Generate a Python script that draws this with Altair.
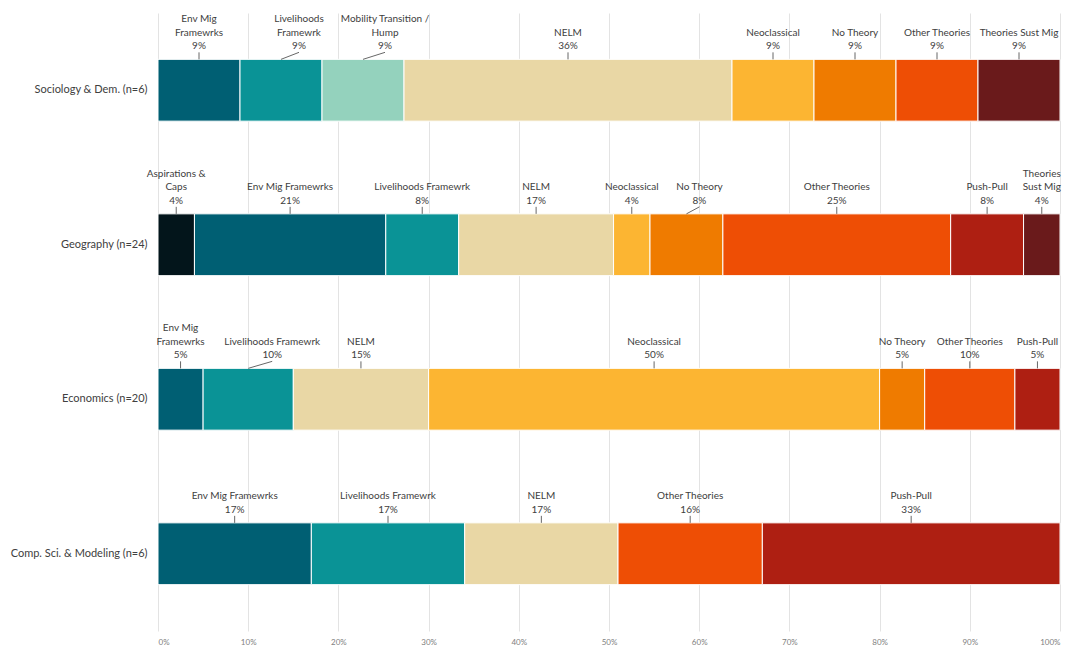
import altair as alt
import pandas as pd

disciplines = [
    "Sociology & Dem. (n=6)",
    "Geography (n=24)",
    "Economics (n=20)",
    "Comp. Sci. & Modeling (n=6)",
]

theories = [
    "Aspirations & Caps",
    "Env Mig Framewrks",
    "Livelihoods Framewrk",
    "Mobility Transition / Hump",
    "NELM",
    "Neoclassical",
    "No Theory",
    "Other Theories",
    "Push-Pull",
    "Theories Sust Mig",
]
theory_colors = [
    "#03151b", "#005f73", "#0a9396", "#94d2bd", "#e9d7a5",
    "#fcb532", "#ef7b00", "#ee4e05", "#ae1f12", "#6a1a1b",
]

soc_labels = ["Env Mig\nFramewrks", "Livelihoods\nFramewrk", "Mobility Transition /\nHump", "NELM",
              "Neoclassical", "No Theory", "Other Theories", "Theories Sust Mig"]
soc_pct = [9, 9, 9, 36, 9, 9, 9, 9]

geo_labels = ["Aspirations &\nCaps", "Env Mig Framewrks", "Livelihoods Framewrk", "NELM", "Neoclassical",
              "No Theory", "Other Theories", "Push-Pull", "Theories\nSust Mig"]
geo_pct = [4, 21, 8, 17, 4, 8, 25, 8, 4]

eco_labels = ["Env Mig\nFramewrks", "Livelihoods Framewrk", "NELM", "Neoclassical", "No Theory",
              "Other Theories", "Push-Pull"]
eco_pct = [5, 10, 15, 50, 5, 10, 5]

cs_labels = ["Env Mig Framewrks", "Livelihoods Framewrk", "NELM", "Other Theories", "Push-Pull"]
cs_pct = [17, 17, 17, 16, 33]

tick_values = [0.0, 0.1, 0.2, 0.3, 0.4, 0.5, 0.6, 0.7, 0.8, 0.9, 1.0]

rows = []
for disc, labels, pcts in zip(disciplines,
                              [soc_labels, geo_labels, eco_labels, cs_labels],
                              [soc_pct, geo_pct, eco_pct, cs_pct]):
    for lab, p in zip(labels, pcts):
        name = lab.replace("\n", " ")
        # callout lines counted from the bottom (line0 = percentage)
        lines = lab.split("\n")[::-1]
        rows.append({
            "discipline": disc,
            "theory": name,
            "order": theories.index(name),
            "pct": p,
            "line0": f"{p}%",
            "line1": lines[0],
            "line2": lines[1] if len(lines) > 1 else "",
            "key": f"{disc}|{name}",
        })
df = pd.DataFrame(rows)

FONT = "Lato"
TXT = "#404040"
LINE_H = 13.5

base = alt.Chart(df).transform_stack(
    stack="pct",
    as_=["x0", "x1"],
    groupby=["discipline"],
    offset="normalize",
    sort=[alt.SortField("order", order="ascending")],
).transform_calculate(mid="(datum.x0 + datum.x1) / 2")

yscale = alt.Scale(paddingInner=0.6, paddingOuter=0.3)
xscale = alt.Scale(domain=[0, 1])

bars = base.mark_bar(stroke="white", strokeWidth=1).encode(
    x=alt.X("x0:Q", scale=xscale, title=None,
            axis=alt.Axis(format="%", values=tick_values, grid=True, gridColor="#e3e3e3",
                          domain=False, ticks=False, labelFontSize=8, labelColor="#808080",
                          labelFont=FONT, labelPadding=7)),
    x2="x1:Q",
    y=alt.Y("discipline:N", sort=disciplines, scale=yscale, title=None,
            axis=alt.Axis(domain=False, ticks=False, grid=False, labelFont=FONT, labelFontSize=11,
                          labelColor=TXT, labelPadding=11, minExtent=150, maxExtent=150)),
    color=alt.Color("theory:N", scale=alt.Scale(domain=theories, range=theory_colors), legend=None),
)

# label nudges (pixels) for callouts that were moved sideways to avoid overlap
nudges = {
    "Sociology & Dem. (n=6)|Livelihoods Framewrk": 18,
    "Sociology & Dem. (n=6)|Mobility Transition / Hump": 22,
    "Geography (n=24)|No Theory": 13,
    "Economics (n=20)|Livelihoods Framewrk": 24,
}


def label_layers(sub, dx):
    ypos = alt.Y("discipline:N", sort=disciplines, scale=yscale, bandPosition=0, title=None)
    out = [sub.mark_rule(color=TXT, strokeWidth=0.8, y2Offset=-7, x2Offset=dx).encode(
        x=alt.X("mid:Q", scale=xscale),
        x2="mid:Q",
        y=ypos,
        y2=alt.Y2("discipline", bandPosition=0),
    )]
    for k, fld in enumerate(["line0", "line1", "line2"]):
        out.append(sub.mark_text(align="center", baseline="bottom", dx=dx, dy=-8 - LINE_H * k,
                                 font=FONT, fontSize=10, color=TXT).encode(
            x=alt.X("mid:Q", scale=xscale),
            y=ypos,
            text=f"{fld}:N",
        ))
    return out


keys_list = ", ".join("'" + k + "'" for k in nudges)
layers = label_layers(base.transform_filter(f"indexof([{keys_list}], datum.key) < 0"), 0)
for k, dx in nudges.items():
    layers += label_layers(base.transform_filter(f"datum.key == '{k}'"), dx)

chart = alt.layer(bars, *layers).properties(
    width=902,
    height=618,
    padding={"left": 0, "top": 5, "right": 5, "bottom": 5},
    background="white",
).configure_view(stroke=None)

chart.save("out.html", embed_options={"renderer": "svg", "actions": False})
